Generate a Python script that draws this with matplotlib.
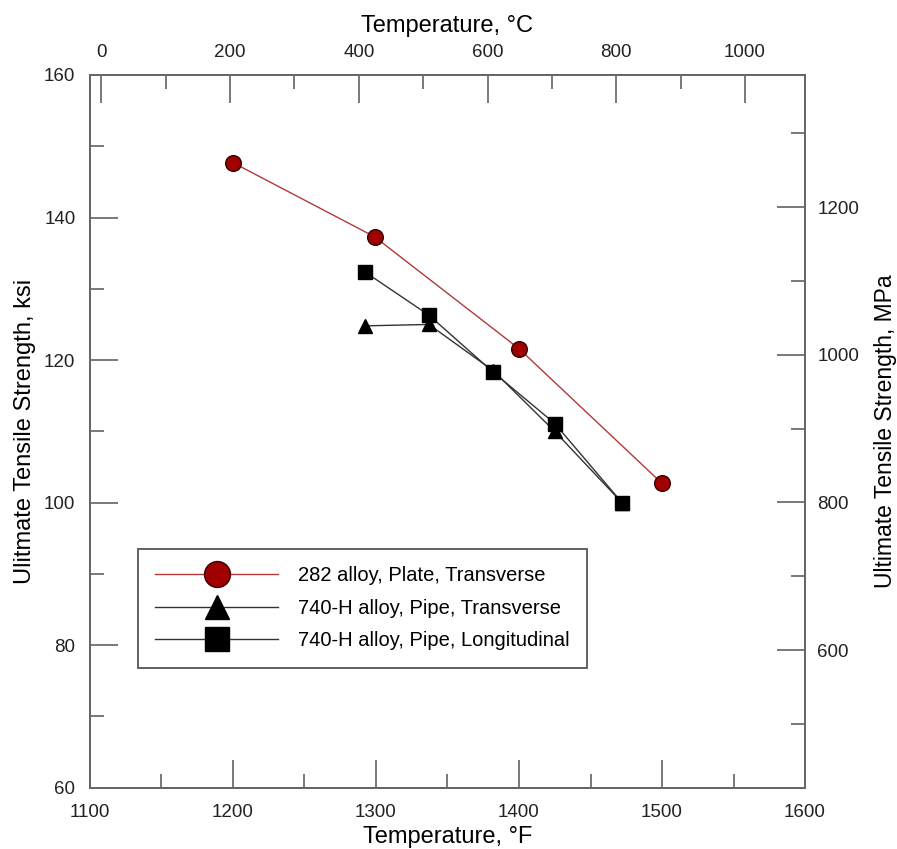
import matplotlib
matplotlib.use("Agg")
import matplotlib.pyplot as plt
from matplotlib.ticker import MultipleLocator, FixedLocator

plt.rcParams['font.family'] = ['Liberation Sans', 'DejaVu Sans']

# ---- data ----
temp_282 = [1200, 1299, 1400, 1500]
uts_282 = [147.7, 137.3, 121.6, 102.7]

temp_740_t = [1292, 1337, 1382, 1425, 1472]
uts_740_t = [124.8, 125.0, 118.5, 110.0, 100.0]

temp_740_l = [1292, 1337, 1382, 1425, 1472]
uts_740_l = [132.4, 126.3, 118.3, 111.1, 100.0]

labels = ["282 alloy, Plate, Transverse",
          "740-H alloy, Pipe, Transverse",
          "740-H alloy, Pipe, Longitudinal"]

# axis ranges
f_lim = (1100, 1600)
ksi_lim = (60, 160)
c_lim = (-17.78, 1093.33)
mpa_lim = (413.7, 1379.0)

fig = plt.figure(figsize=(8.97, 8.49), dpi=100)
ax = fig.add_axes([90/897, 1-787.7/849, 715/897, 712.7/849])

spine_c = '#666666'
tick_c = '#555555'
tick_fs = 13.5
lab_fs = 17

ax.plot(temp_282, uts_282, '-', color='#b03a3a', lw=1.0, marker='o', ms=11.3,
        mfc='#a00000', mec='#3a0000', mew=1.0, label=labels[0], zorder=3)
ax.plot(temp_740_t, uts_740_t, '-', color='#333333', lw=1.0, marker='^', ms=10.5,
        mfc='black', mec='black', label=labels[1], zorder=4)
ax.plot(temp_740_l, uts_740_l, '-', color='#333333', lw=1.0, marker='s', ms=10.5,
        mfc='black', mec='black', label=labels[2], zorder=5)

ax.set_xlim(*f_lim)
ax.set_ylim(*ksi_lim)
ax.xaxis.set_major_locator(MultipleLocator(100))
ax.xaxis.set_minor_locator(MultipleLocator(50))
ax.yaxis.set_major_locator(MultipleLocator(20))
ax.yaxis.set_minor_locator(MultipleLocator(10))

ax.set_xlabel("Temperature, °F", fontsize=lab_fs)
ax.set_ylabel("Ulitmate Tensile Strength, ksi", fontsize=lab_fs)
ax.xaxis.set_label_coords(0.5, -0.054)
ax.yaxis.set_label_coords(-0.0755, 0.5)

# top axis (°C)
axt = ax.twiny()
axt.set_xlim(*c_lim)
axt.xaxis.set_major_locator(FixedLocator([0, 200, 400, 600, 800, 1000]))
axt.xaxis.set_minor_locator(FixedLocator([100, 300, 500, 700, 900]))
axt.set_xlabel("Temperature, °C", fontsize=lab_fs)
axt.xaxis.set_label_coords(0.5, 1.061)

# right axis (MPa)
axr = ax.twinx()
axr.set_ylim(*mpa_lim)
axr.yaxis.set_major_locator(FixedLocator([600, 800, 1000, 1200]))
axr.yaxis.set_minor_locator(FixedLocator([500, 700, 900, 1100, 1300]))
axr.set_ylabel("Ultimate Tensile Strength, MPa", fontsize=16.5, rotation=90)
axr.yaxis.set_label_coords(1.0965, 0.5)

for a in (ax, axt, axr):
    for s in a.spines.values():
        s.set_color(spine_c)
        s.set_linewidth(1.3)
    a.tick_params(which='major', direction='in', length=20, width=1.1,
                  color=tick_c, labelsize=tick_fs, labelcolor='#222222', pad=10)
    a.tick_params(which='minor', direction='in', length=10, width=1.1, color=tick_c)

ax.tick_params(axis='x', which='both', top=False, pad=12)
ax.tick_params(axis='y', which='both', right=False, pad=10.5)
axt.tick_params(axis='x', which='both', bottom=False)
axr.tick_params(axis='y', which='both', left=False, pad=9)

leg = ax.legend(loc='upper left', bbox_to_anchor=(0.0676, 0.335), borderaxespad=0,
                fontsize=14.5, handlelength=6.1, handletextpad=1.0, labelspacing=0.68,
                borderpad=0.85, markerscale=1.65, fancybox=False, framealpha=1,
                edgecolor='#555555')
leg.get_frame().set_linewidth(1.3)
leg.set_zorder(10)

fig.savefig("out.png", dpi=100)
